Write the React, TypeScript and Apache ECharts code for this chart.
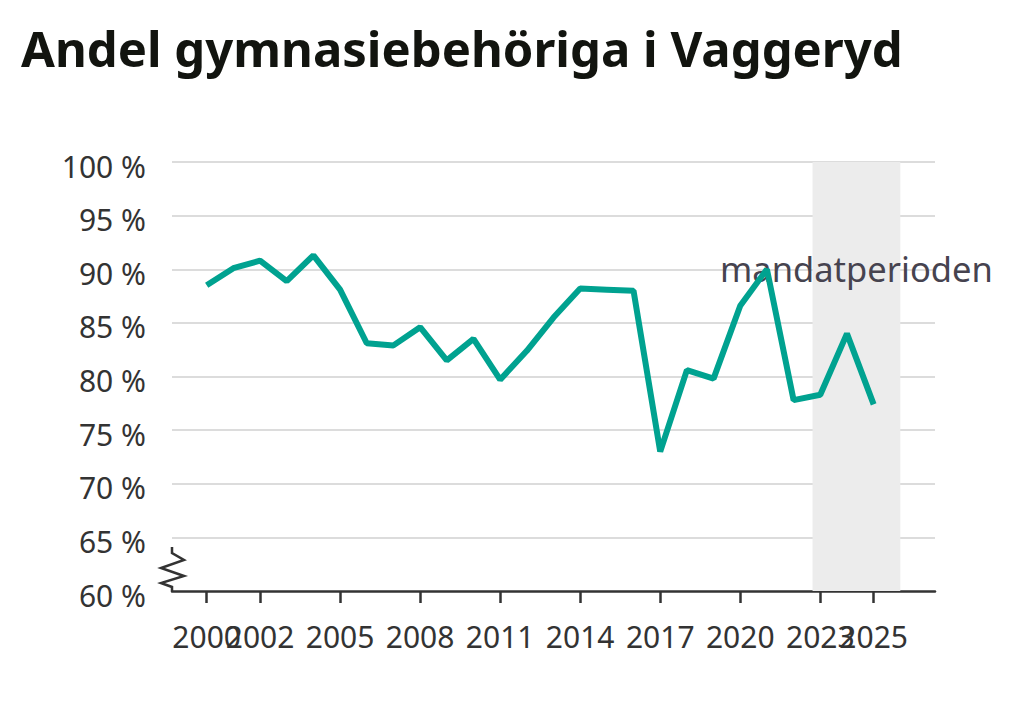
import React, { useEffect, useRef } from "react";
import * as echarts from "echarts";

const titleText = "Andel gymnasiebehöriga i Vaggeryd";
const years = [2000, 2001, 2002, 2003, 2004, 2005, 2006, 2007, 2008, 2009, 2010, 2011, 2012, 2013, 2014, 2015, 2016, 2017, 2018, 2019, 2020, 2021, 2022, 2023, 2024, 2025];
const values = [88.5, 90.1, 90.8, 88.9, 91.3, 88.1, 83.1, 82.9, 84.6, 81.5, 83.5, 79.7, 82.4, 85.5, 88.2, 88.1, 88.0, 73.0, 80.6, 79.8, 86.6, 90.0, 77.8, 78.3, 84.0, 77.4];
const xTicksMain = [2002, 2005, 2008, 2011, 2014, 2017, 2020, 2023];
const xTicksEnds = [2000, 2025];
const periodStart = 2022.71;
const periodEnd = 2026.0;
const periodLabel = "mandatperioden";

export default function App() {
  const ref = useRef<HTMLDivElement>(null);
  useEffect(() => {
    if (!ref.current) return;
    const chart = echarts.init(ref.current, undefined, { renderer: "svg" });
    const font = "'Noto Sans', sans-serif";
    const makeX = (ticks: number[], showLine: boolean) => ({
      type: "value",
      position: "bottom",
      min: 1998.7,
      max: 2027.3,
      splitLine: { show: false },
      axisLine: { show: showLine, onZero: false, lineStyle: { color: "#333333", width: 2.5 } },
      axisTick: { show: true, customValues: ticks, length: 12, lineStyle: { color: "#333333", width: 2.5 } },
      axisLabel: {
        customValues: ticks,
        showMinLabel: true,
        showMaxLabel: true,
        hideOverlap: false,
        fontFamily: font,
        fontSize: 30,
        color: "#333333",
        margin: 30,
        formatter: (v: number) => String(v),
      },
    });
    chart.setOption({
      animation: false,
      backgroundColor: "#ffffff",
      title: {
        text: titleText,
        left: 16,
        top: 18,
        textStyle: { fontFamily: font, fontSize: 49, fontWeight: "bold", color: "#12140f" },
      },
      grid: { left: 172, right: 89, top: 162, bottom: 114, containLabel: false },
      xAxis: [makeX(xTicksMain, true), makeX(xTicksEnds, false)],
      yAxis: {
        type: "value",
        min: 60,
        max: 100,
        interval: 5,
        axisLine: { show: false },
        axisTick: { show: false },
        splitLine: {
          show: true,
          lineStyle: { color: "#dcdcdc", width: 2 },
          showMinLine: false,
        },
        axisLabel: {
          fontFamily: font,
          fontSize: 30,
          color: "#333333",
          margin: 26,
          verticalAlign: "top",
          lineHeight: 8,
          formatter: (v: number) => `${v} %`,
        },
      },
      graphic: [
        {
          type: "polyline",
          shape: {
            points: [
              [172, 547], [172, 553], [184, 560], [161, 568], [184, 576], [161, 583], [172, 587], [172, 591],
            ],
          },
          style: { stroke: "#333333", lineWidth: 2.5, fill: "none" },
          z: 10,
        },
      ],
      series: [
        {
          type: "line",
          data: [],
          z: 1,
          markArea: {
            silent: true,
            itemStyle: { color: "#ececec" },
            label: {
              show: true,
              position: ["50%", 106],
              align: "center",
              verticalAlign: "middle",
              fontFamily: font,
              fontSize: 34.5,
              color: "#46434f",
            },
            data: [[{ xAxis: periodStart, name: periodLabel }, { xAxis: periodEnd }]],
          },
        },
        {
          type: "line",
          data: years.map((y, i) => [y, values[i]]),
          showSymbol: false,
          symbol: "none",
          lineStyle: { color: "#00a290", width: 6 },
          z: 10,
        },
      ],
    });
    return () => chart.dispose();
  }, []);
  return (
    <div style={{ position: "fixed", left: 0, top: 0, width: 1024, height: 705, background: "#fff" }}>
      <div ref={ref} style={{ width: 1024, height: 705 }} />
    </div>
  );
}
